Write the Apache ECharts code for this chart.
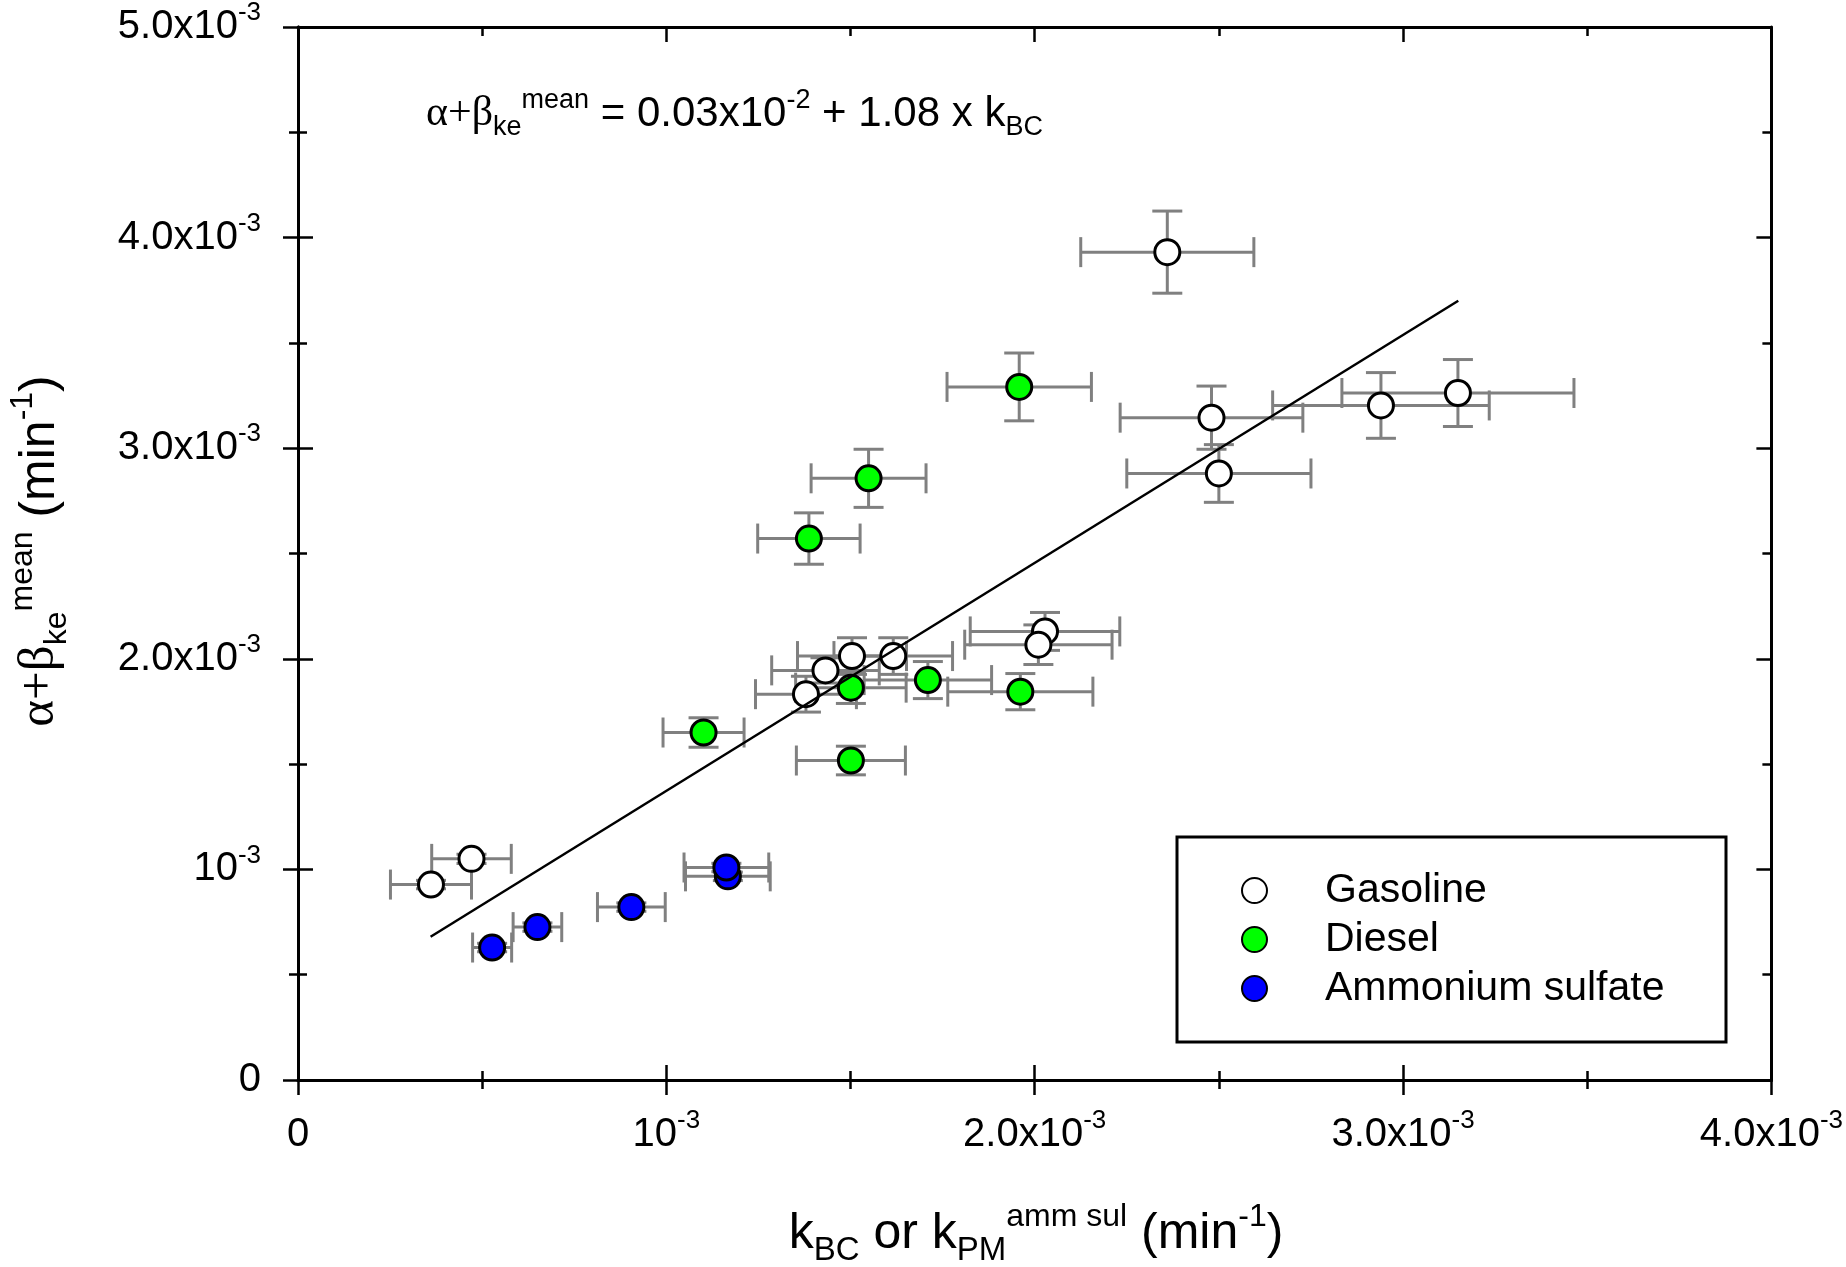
<!DOCTYPE html>
<html>
<head>
<meta charset="utf-8">
<script src="https://cdn.jsdelivr.net/npm/echarts@6/dist/echarts.min.js"></script>
<style>
html,body{margin:0;padding:0;background:#fff;}
#c{width:1846px;height:1267px;}
</style>
</head>
<body>
<div id="c"></div>
<script>
// Values in units of 10^-3 min^-1
const gasX  = [0.361, 0.471, 1.379, 1.432, 1.504, 1.616, 2.028, 2.010, 2.360, 2.480, 2.500, 2.940, 3.149];
const gasY  = [0.928, 1.050, 1.832, 1.945, 2.013, 2.013, 2.130, 2.067, 3.931, 3.145, 2.880, 3.203, 3.262];
const gasXe = [0.110, 0.108, 0.137, 0.146, 0.148, 0.161, 0.203, 0.200, 0.235, 0.248, 0.250, 0.294, 0.315];
const gasYe = [0.020, 0.022, 0.085, 0.060, 0.087, 0.087, 0.090, 0.094, 0.195, 0.150, 0.137, 0.156, 0.159];

const dieX  = [1.101, 1.387, 1.549, 1.958, 1.501, 1.710, 1.961, 1.501];
const dieY  = [1.650, 2.571, 2.857, 3.291, 1.863, 1.899, 1.844, 1.517];
const dieXe = [0.110, 0.139, 0.156, 0.196, 0.150, 0.173, 0.197, 0.148];
const dieYe = [0.070, 0.122, 0.138, 0.161, 0.075, 0.088, 0.086, 0.068];

const asX  = [0.527, 0.650, 0.905, 1.167, 1.163];
const asY  = [0.629, 0.726, 0.821, 0.967, 1.009];
const asXe = [0.053, 0.066, 0.092, 0.115, 0.115];
const asYe = [0.020, 0.020, 0.020, 0.020, 0.020];

const fitX = [0.36, 3.15];
const fitY = [0.68, 3.70];

const xTickBase = ['0', '10', '2.0x10', '3.0x10', '4.0x10'];
const xTickExp  = ['', '-3', '-3', '-3', '-3'];
const yTickBase = ['0', '10', '2.0x10', '3.0x10', '4.0x10', '5.0x10'];
const yTickExp  = ['', '-3', '-3', '-3', '-3', '-3'];

const seriesNames = ['Gasoline', 'Diesel', 'Ammonium sulfate'];

const FONT = 'Liberation Sans, Arial, sans-serif';
const SERIF = 'Liberation Serif, Times New Roman, serif';

function pts(xs, ys) { return xs.map((x, i) => [x, ys[i]]); }
function errs(xs, ys, xe, ye) { return xs.map((x, i) => [x, ys[i], xe[i], ye[i]]); }

const errData = [].concat(
  errs(gasX, gasY, gasXe, gasYe),
  errs(dieX, dieY, dieXe, dieYe),
  errs(asX, asY, asXe, asYe)
);

function labelFmt(base, exp) {
  return function (v) {
    const i = Math.round(v);
    if (base[i] === undefined) return '';
    return exp[i] ? '{b|' + base[i] + '}{s|' + exp[i] + '}' : '{b|' + base[i] + '}';
  };
}
const tickRich = {
  b: {fontSize: 40, fontFamily: FONT, color: '#000', lineHeight: 54},
  s: {fontSize: 26, fontFamily: FONT, color: '#000', lineHeight: 26, verticalAlign: 'top'}
};

const CAP = 15;
function renderErr(params, api) {
  const x = api.value(0), y = api.value(1), xe = api.value(2), ye = api.value(3);
  const l = api.coord([x - xe, y]), r = api.coord([x + xe, y]);
  const t = api.coord([x, y + ye]), b = api.coord([x, y - ye]);
  const st = {stroke: '#808080', lineWidth: 3};
  const ln = (x1, y1, x2, y2) => ({type: 'line', shape: {x1, y1, x2, y2}, style: st});
  return {
    type: 'group',
    children: [
      ln(l[0], l[1], r[0], r[1]),
      ln(l[0], l[1] - CAP, l[0], l[1] + CAP),
      ln(r[0], r[1] - CAP, r[0], r[1] + CAP),
      ln(t[0], t[1], b[0], b[1]),
      ln(t[0] - CAP, t[1], t[0] + CAP, t[1]),
      ln(b[0] - CAP, b[1], b[0] + CAP, b[1])
    ]
  };
}

const axLine = {show: true, onZero: false, lineStyle: {color: '#000', width: 3}};
function xAx(extra) {
  return Object.assign({
    type: 'value', min: 0, max: 4, interval: 1, position: 'bottom',
    axisLine: axLine, splitLine: {show: false}, minorSplitLine: {show: false},
    axisLabel: {show: false},
    axisTick: {show: true, length: 15, lineStyle: {color: '#000', width: 2.5}},
    minorTick: {show: true, splitNumber: 2, length: 9, lineStyle: {color: '#000', width: 2.5}}
  }, extra);
}
function yAx(extra) {
  return Object.assign({
    type: 'value', min: 0, max: 5, interval: 1, position: 'left',
    axisLine: axLine, splitLine: {show: false}, minorSplitLine: {show: false},
    axisLabel: {show: false},
    axisTick: {show: true, length: 15, lineStyle: {color: '#000', width: 2.5}},
    minorTick: {show: true, splitNumber: 2, length: 9, lineStyle: {color: '#000', width: 2.5}}
  }, extra);
}
const inTick = {show: true, inside: true, length: 15, lineStyle: {color: '#000', width: 2.5}};
const inMinor = {show: true, splitNumber: 2, length: 9, lineStyle: {color: '#000', width: 2.5}};

const chart = echarts.init(document.getElementById('c'), null, {renderer: 'canvas'});
const markerBase = {borderColor: '#000', borderWidth: 3, opacity: 1};

chart.setOption({
  animation: false,
  backgroundColor: '#fff',
  grid: {left: 298, top: 20, width: 1475, height: 1060, containLabel: false},
  xAxis: [
    xAx({axisLabel: {show: true, margin: 28, formatter: labelFmt(xTickBase, xTickExp), rich: tickRich}}),
    xAx({axisTick: inTick, minorTick: inMinor}),
    xAx({position: 'top', axisTick: inTick, minorTick: inMinor})
  ],
  yAxis: [
    yAx({axisLabel: {show: true, margin: 37, formatter: labelFmt(yTickBase, yTickExp), rich: tickRich}}),
    yAx({axisTick: inTick, minorTick: inMinor}),
    yAx({position: 'right', axisTick: inTick, minorTick: inMinor})
  ],
  legend: {
    data: seriesNames,
    orient: 'vertical',
    left: 1241, top: 870,
    padding: 0,
    icon: 'circle',
    itemWidth: 25, itemHeight: 25, itemGap: 8,
    selectedMode: false,
    itemStyle: {opacity: 1},
    textStyle: {fontSize: 41, fontFamily: FONT, color: '#000', lineHeight: 41, padding: [0, 0, 0, 53]}
  },
  graphic: [
    {type: 'rect', z: 10, shape: {x: 1177, y: 837, width: 549, height: 205},
     style: {fill: 'none', stroke: '#000', lineWidth: 3}},
    {type: 'text', z: 10, x: 426, y: 114,
     style: {
       text: '{g|α+β}{s|ke}{p|mean}{n| = 0.03x10}{p|-2}{n| + 1.08 x k}{s|BC}',
       align: 'left', verticalAlign: 'middle',
       rich: {
         g: {fontSize: 42, fontFamily: SERIF, fill: '#000', lineHeight: 54},
         n: {fontSize: 42, fontFamily: FONT, fill: '#000', lineHeight: 54},
         s: {fontSize: 27, fontFamily: FONT, fill: '#000', lineHeight: 27, verticalAlign: 'bottom'},
         p: {fontSize: 27, fontFamily: FONT, fill: '#000', lineHeight: 27, verticalAlign: 'top'}
       }
     }},
    {type: 'text', z: 10, x: 1036, y: 1234,
     style: {
       text: '{n|k}{s|BC}{n| or k}{s|PM}{p|amm sul}{n| (min}{p|-1}{n|)}',
       align: 'center', verticalAlign: 'middle',
       rich: {
         n: {fontSize: 50, fontFamily: FONT, fill: '#000', lineHeight: 66},
         s: {fontSize: 33, fontFamily: FONT, fill: '#000', lineHeight: 33, verticalAlign: 'bottom'},
         p: {fontSize: 32, fontFamily: FONT, fill: '#000', lineHeight: 32, verticalAlign: 'top'}
       }
     }},
    {type: 'text', z: 10, x: 40, y: 551, rotation: Math.PI / 2,
     style: {
       text: '{g|α+β}{s|ke}{p|mean}{n| (min}{p|-1}{n|)}',
       align: 'center', verticalAlign: 'middle',
       rich: {
         g: {fontSize: 51, fontFamily: SERIF, fill: '#000', lineHeight: 66},
         n: {fontSize: 50, fontFamily: FONT, fill: '#000', lineHeight: 66},
         s: {fontSize: 32, fontFamily: FONT, fill: '#000', lineHeight: 32, verticalAlign: 'bottom'},
         p: {fontSize: 32, fontFamily: FONT, fill: '#000', lineHeight: 32, verticalAlign: 'top'}
       }
     }}
  ],
  series: [
    {name: 'err', type: 'custom', renderItem: renderErr, data: errData,
     encode: {x: 0, y: 1}, z: 1, silent: true},
    {name: seriesNames[0], type: 'scatter', data: pts(gasX, gasY), symbolSize: 25, z: 2,
     itemStyle: Object.assign({color: '#ffffff'}, markerBase)},
    {name: seriesNames[1], type: 'scatter', data: pts(dieX, dieY), symbolSize: 25, z: 2,
     itemStyle: Object.assign({color: '#00ff00'}, markerBase)},
    {name: seriesNames[2], type: 'scatter', data: pts(asX, asY), symbolSize: 25, z: 2,
     itemStyle: Object.assign({color: '#0000ff'}, markerBase)},
    {name: 'fit', type: 'line', data: pts(fitX, fitY), symbol: 'none', z: 3,
     lineStyle: {color: '#000', width: 2.5}, silent: true}
  ]
});
</script>
</body>
</html>
